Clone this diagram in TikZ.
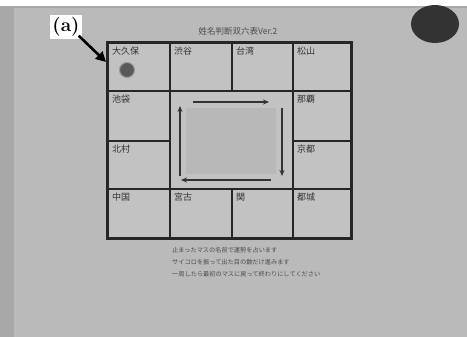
\documentclass[tikz,border=0pt]{standalone}
\usepackage{fontspec}
\newfontfamily\jp{Noto Sans CJK JP}
\usetikzlibrary{arrows.meta}
\begin{document}
\begin{tikzpicture}[x=1pt,y=-1pt,
  cell/.style={draw=black!85, line width=1.6pt, fill=black!24, inner sep=0pt, anchor=north west},
  lab/.style={anchor=north west, inner sep=0pt, font=\jp\fontsize{9}{9}\selectfont, text=black!80},
  flow/.style={draw=black!80, line width=1.1pt, -{Stealth[length=6pt,width=5pt]}},
  note/.style={anchor=west, inner sep=0pt, font=\jp\fontsize{6.2}{6.2}\selectfont, text=black!70}]
\useasboundingbox (0,0) rectangle (467,337);
% background (photo)
\fill[black!34] (0,0) rectangle (467,337);
\fill[white] (0,0) rectangle (467,6);
\fill[black!27] (14,8) rectangle (467,337);
% magnet
\fill[black!80] (435,24) ellipse [x radius=24, y radius=19];
% title
\node[anchor=center, inner sep=0pt, font=\jp\fontsize{8.5}{8.5}\selectfont, text=black!70] (title) at (238,31) {姓名判断双六表Ver.2};
% cells
\node[cell, minimum width=62, minimum height=48] (c11) at (107,42) {};
\node[cell, minimum width=62, minimum height=48] (c12) at (169,42) {};
\node[cell, minimum width=61, minimum height=48] (c13) at (231,42) {};
\node[cell, minimum width=58, minimum height=48] (c14) at (292,42) {};
\node[cell, minimum width=62, minimum height=50] (c21) at (107,90) {};
\node[cell, minimum width=123, minimum height=98] (mid) at (169,90) {};
\node[cell, minimum width=58, minimum height=50] (c24) at (292,90) {};
\node[cell, minimum width=62, minimum height=48] (c31) at (107,140) {};
\node[cell, minimum width=58, minimum height=48] (c34) at (292,140) {};
\node[cell, minimum width=62, minimum height=49] (c41) at (107,188) {};
\node[cell, minimum width=62, minimum height=49] (c42) at (169,188) {};
\node[cell, minimum width=61, minimum height=49] (c43) at (231,188) {};
\node[cell, minimum width=58, minimum height=49] (c44) at (292,188) {};
\draw[black!85, line width=2pt] (c11.north west) rectangle (c44.south east);
% shaded patch in the middle
\fill[black!28] (186,108) rectangle (276,174);
% labels
\node[lab] (l11) at ([shift={(5,5)}]c11.north west) {大久保};
\node[lab] (l12) at ([shift={(5,5)}]c12.north west) {渋谷};
\node[lab] (l13) at ([shift={(5,5)}]c13.north west) {台湾};
\node[lab] (l14) at ([shift={(5,5)}]c14.north west) {松山};
\node[lab] (l21) at ([shift={(5,5)}]c21.north west) {池袋};
\node[lab] (l24) at ([shift={(5,5)}]c24.north west) {那覇};
\node[lab] (l31) at ([shift={(5,5)}]c31.north west) {北村};
\node[lab] (l34) at ([shift={(5,5)}]c34.north west) {京都};
\node[lab] (l41) at ([shift={(5,5)}]c41.north west) {中国};
\node[lab] (l42) at ([shift={(5,5)}]c42.north west) {宮古};
\node[lab] (l43) at ([shift={(5,5)}]c43.north west) {関};
\node[lab] (l44) at ([shift={(5,5)}]c44.north west) {都城};
% piece
\node[circle, fill=black!65, draw=black!40, line width=1pt, minimum size=15pt, inner sep=0pt] (piece) at (127,70) {};
% arrows in the middle
\coordinate (tl) at (193,102); \coordinate (tr) at (269,102);
\coordinate (rt) at (282,108); \coordinate (rb) at (282,176);
\coordinate (br) at (271,180); \coordinate (bl) at (181,180);
\coordinate (lb) at (180,176); \coordinate (lt) at (180,106);
\draw[flow] (tl) -- (tr);
\draw[flow] (rt) -- (rb);
\draw[flow] (br) -- (bl);
\draw[flow] (lb) -- (lt);
% notes
\node[note] (n1) at (172,250) {止まったマスの名前で運勢を占います};
\node[note] (n2) at (172,262) {サイコロを振って出た目の数だけ進みます};
\node[note] (n3) at (172,274) {一周したら最初のマスに戻って終わりにしてください};
% (a) callout
\node[fill=white, inner sep=2pt, font=\bfseries\fontsize{19}{19}\selectfont] (a) at (66,27) {(a)};
\coordinate (tip) at (106,62);
\draw[line width=2.6pt, -{Triangle[length=10pt,width=10pt]}] ([shift={(-3,-3)}]a.south east) -- (tip);
\end{tikzpicture}
\end{document}
